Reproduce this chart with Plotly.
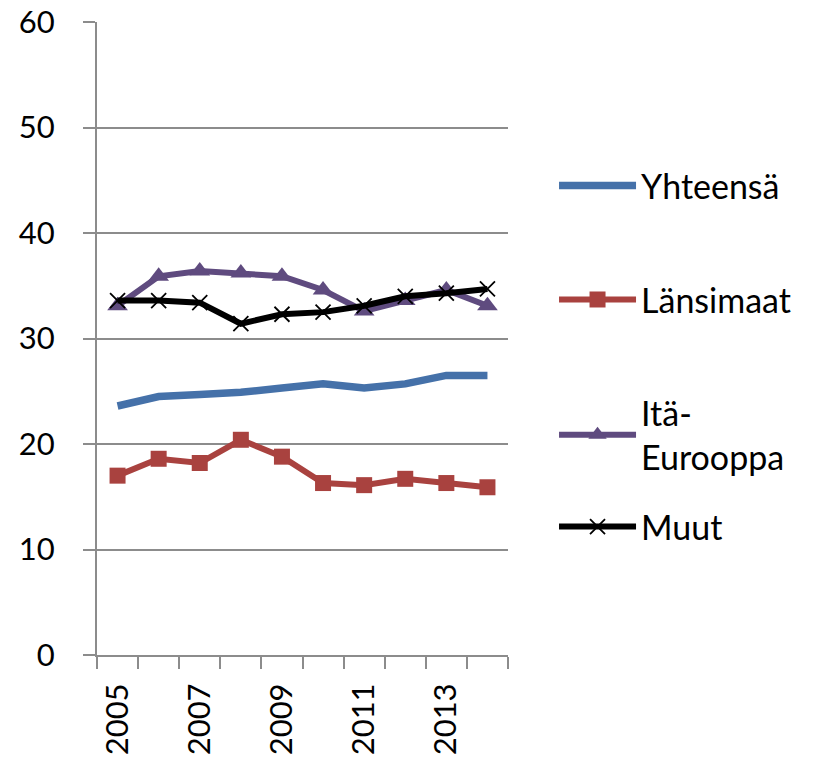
import plotly.graph_objects as go

years = [2005, 2006, 2007, 2008, 2009, 2010, 2011, 2012, 2013, 2014]
yhteensa = [23.6, 24.5, 24.7, 24.9, 25.3, 25.7, 25.3, 25.7, 26.5, 26.5]
lansimaat = [17.0, 18.6, 18.2, 20.4, 18.8, 16.3, 16.1, 16.7, 16.3, 15.9]
ita_eurooppa = [33.1, 35.9, 36.4, 36.2, 35.9, 34.6, 32.6, 33.6, 34.6, 33.1]
muut = [33.6, 33.6, 33.4, 31.4, 32.3, 32.5, 33.1, 34.0, 34.3, 34.7]
label_years = [2005, 2007, 2009, 2011, 2013]
y_ticks = [0, 10, 20, 30, 40, 50, 60]

FONT = "Lato, Open Sans, sans-serif"
FS = 31
LFS = 34

fig = go.Figure()
fig.add_trace(go.Scatter(x=years, y=yhteensa, name="Yhteensä", mode="lines",
                         line=dict(color="#4571A9", width=7.5), legend="legend", showlegend=True))
fig.add_trace(go.Scatter(x=years, y=lansimaat, name="Länsimaat", mode="lines+markers",
                         line=dict(color="#A9423F", width=6),
                         marker=dict(symbol="square", size=16, color="#A9423F"), legend="legend2"))
fig.add_trace(go.Scatter(x=years, y=ita_eurooppa, name="Itä-<br>Eurooppa", mode="lines+markers",
                         line=dict(color="#5F4B7F", width=6),
                         marker=dict(symbol="triangle-up", size=18, color="#5F4B7F"), legend="legend3"))
fig.add_trace(go.Scatter(x=years, y=muut, name="Muut", mode="lines+markers",
                         line=dict(color="#000000", width=6),
                         marker=dict(symbol="x-thin", size=15, line=dict(color="#000000", width=1.8)),
                         legend="legend4"))

def leg(y):
    return dict(x=1.112, y=y, xanchor="left", yanchor="middle",
                font=dict(family=FONT, size=LFS), itemwidth=77, bgcolor="rgba(0,0,0,0)")

fig.update_layout(
    width=821, height=760,
    showlegend=True,
    margin=dict(l=97, r=313, t=22, b=105),
    paper_bgcolor="white", plot_bgcolor="white",
    font=dict(family=FONT, size=FS, color="black"),
    legend=leg(0.741), legend2=leg(0.561), legend3=leg(0.3476), legend4=leg(0.2022),
    xaxis=dict(range=[2004.5, 2014.5], tickvals=label_years, ticktext=[str(y) for y in label_years],
               tickangle=-90, ticks="outside", ticklen=0, showgrid=False, zeroline=False,
               showline=True, linecolor="#8C8C8C", linewidth=2, automargin=False,
               tickfont=dict(family=FONT, size=FS), ticklabelstandoff=14,
               minor=dict(tickvals=[y + 0.5 for y in [2004] + years], ticks="outside",
                          ticklen=12, tickwidth=2, tickcolor="#8C8C8C", showgrid=False)),
    yaxis=dict(range=[0, 60], tickvals=y_ticks, ticks="outside", ticklen=12, tickwidth=2,
               tickcolor="#8C8C8C", showgrid=True, gridcolor="#8C8C8C", gridwidth=2,
               zeroline=False, showline=True, linecolor="#8C8C8C", linewidth=2, automargin=False,
               tickfont=dict(family=FONT, size=FS), ticklabelstandoff=22),
)

fig.write_html("out.html", config={"displayModeBar": False},
               post_script="document.body.style.margin='0px';")
